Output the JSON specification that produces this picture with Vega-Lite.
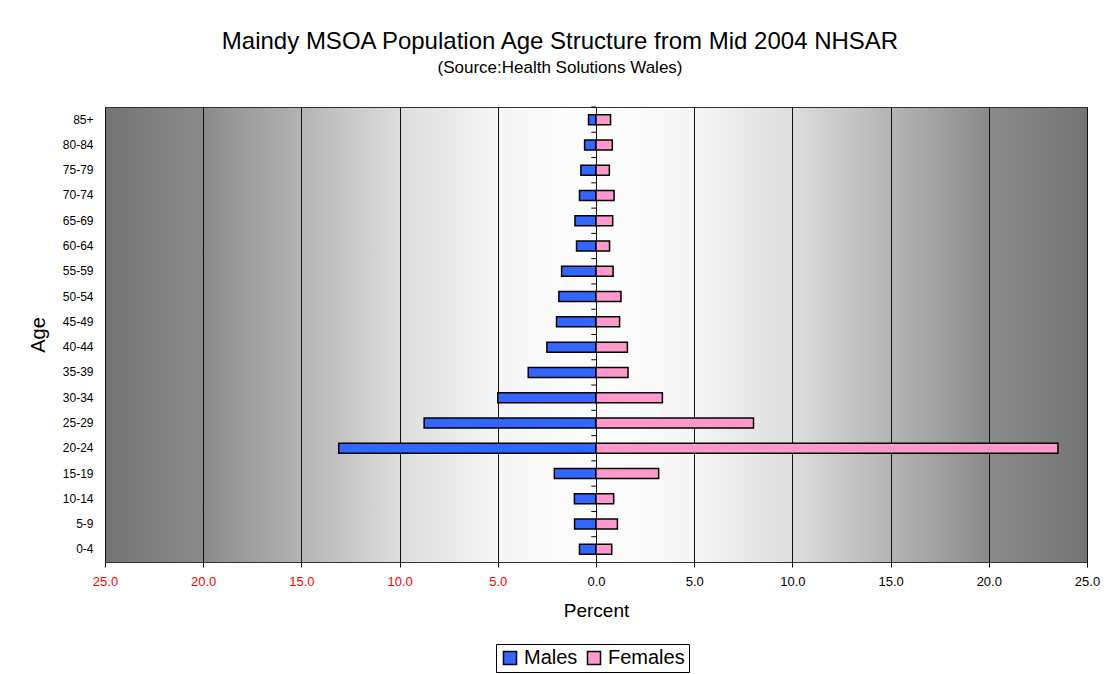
{
  "$schema": "https://vega.github.io/schema/vega-lite/v6.json",
  "width": 982,
  "height": 455,
  "autosize": {"type": "none"},
  "padding": {"left": 105, "top": 107, "right": 23, "bottom": 112},
  "background": "white",
  "view": {
    "stroke": "#333333",
    "strokeWidth": 1,
    "fill": {
      "gradient": "linear", "x1": 0, "x2": 1, "y1": 0, "y2": 0,
      "stops": [
        {"offset": 0, "color": "#747474"},
        {"offset": 0.1, "color": "#8a8a8a"},
        {"offset": 0.2, "color": "#b4b4b4"},
        {"offset": 0.3, "color": "#dddddd"},
        {"offset": 0.4, "color": "#f5f5f5"},
        {"offset": 0.5, "color": "#fdfdfd"},
        {"offset": 0.6, "color": "#f5f5f5"},
        {"offset": 0.7, "color": "#dddddd"},
        {"offset": 0.8, "color": "#b4b4b4"},
        {"offset": 0.9, "color": "#8a8a8a"},
        {"offset": 1, "color": "#747474"}
      ]
    }
  },
  "title": {
    "text": "Maindy MSOA Population Age Structure from Mid 2004 NHSAR",
    "subtitle": "(Source:Health Solutions Wales)",
    "font": "Liberation Sans",
    "subtitleFont": "Liberation Sans",
    "fontSize": 24,
    "subtitleFontSize": 17,
    "fontWeight": "normal",
    "color": "black",
    "subtitleColor": "black",
    "anchor": "middle",
    "dx": -36,
    "offset": 31,
    "subtitlePadding": 6
  },
  "data": {
    "values": [
      {"age": "85+", "sex": "Males", "percent": 0.38},
      {"age": "85+", "sex": "Females", "percent": 0.74},
      {"age": "80-84", "sex": "Males", "percent": 0.58},
      {"age": "80-84", "sex": "Females", "percent": 0.83},
      {"age": "75-79", "sex": "Males", "percent": 0.77},
      {"age": "75-79", "sex": "Females", "percent": 0.68},
      {"age": "70-74", "sex": "Males", "percent": 0.84},
      {"age": "70-74", "sex": "Females", "percent": 0.92},
      {"age": "65-69", "sex": "Males", "percent": 1.07},
      {"age": "65-69", "sex": "Females", "percent": 0.85},
      {"age": "60-64", "sex": "Males", "percent": 0.99},
      {"age": "60-64", "sex": "Females", "percent": 0.69},
      {"age": "55-59", "sex": "Males", "percent": 1.75},
      {"age": "55-59", "sex": "Females", "percent": 0.87},
      {"age": "50-54", "sex": "Males", "percent": 1.89},
      {"age": "50-54", "sex": "Females", "percent": 1.27},
      {"age": "45-49", "sex": "Males", "percent": 2.01},
      {"age": "45-49", "sex": "Females", "percent": 1.2},
      {"age": "40-44", "sex": "Males", "percent": 2.5},
      {"age": "40-44", "sex": "Females", "percent": 1.6},
      {"age": "35-39", "sex": "Males", "percent": 3.45},
      {"age": "35-39", "sex": "Females", "percent": 1.63},
      {"age": "30-34", "sex": "Males", "percent": 5.0},
      {"age": "30-34", "sex": "Females", "percent": 3.38},
      {"age": "25-29", "sex": "Males", "percent": 8.75},
      {"age": "25-29", "sex": "Females", "percent": 8.02},
      {"age": "20-24", "sex": "Males", "percent": 13.1},
      {"age": "20-24", "sex": "Females", "percent": 23.52},
      {"age": "15-19", "sex": "Males", "percent": 2.12},
      {"age": "15-19", "sex": "Females", "percent": 3.19},
      {"age": "10-14", "sex": "Males", "percent": 1.1},
      {"age": "10-14", "sex": "Females", "percent": 0.9},
      {"age": "5-9", "sex": "Males", "percent": 1.09},
      {"age": "5-9", "sex": "Females", "percent": 1.09},
      {"age": "0-4", "sex": "Males", "percent": 0.84},
      {"age": "0-4", "sex": "Females", "percent": 0.8}
    ]
  },
  "transform": [
    {"calculate": "datum.sex === 'Males' ? -datum.percent : datum.percent", "as": "signed"}
  ],
  "encoding": {
    "y": {
      "field": "age",
      "type": "nominal",
      "sort": ["85+", "80-84", "75-79", "70-74", "65-69", "60-64", "55-59", "50-54", "45-49", "40-44", "35-39", "30-34", "25-29", "20-24", "15-19", "10-14", "5-9", "0-4"],
      "scale": {"paddingInner": 0, "paddingOuter": 0},
      "axis": {
        "title": "Age",
        "titleFont": "Liberation Sans",
        "titleFontSize": 20,
        "titleFontWeight": "normal",
        "titleColor": "black",
        "titlePadding": 14,
        "labelFont": "Liberation Sans",
        "labelFontSize": 12,
        "labelColor": "black",
        "labelPadding": 12,
        "ticks": false,
        "domain": false,
        "grid": false
      }
    }
  },
  "layer": [
    {
      "mark": {"type": "bar", "size": 10, "stroke": "black", "strokeWidth": 1.5},
      "encoding": {
        "x": {
          "field": "signed",
          "type": "quantitative",
          "stack": null,
          "scale": {"domain": [-25, 25], "nice": false, "zero": false},
          "axis": {
            "title": "Percent",
            "titleFont": "Liberation Sans",
            "titleFontSize": 19,
            "titleFontWeight": "normal",
            "titleColor": "black",
            "titlePadding": 13,
            "values": [-25, -20, -15, -10, -5, 0, 5, 10, 15, 20, 25],
            "labelExpr": "format(abs(datum.value), '.1f')",
            "labelFont": "Liberation Sans",
            "labelFontSize": 13,
            "labelColor": {"condition": {"test": "datum.value < 0", "value": "#ff0000"}, "value": "black"},
            "labelPadding": 8,
            "labelFlush": false,
            "tickColor": "black",
            "tickSize": 5,
            "domainColor": "#333333",
            "grid": true,
            "gridColor": "#111111",
            "gridOpacity": 1,
            "gridWidth": 1
          }
        },
        "color": {
          "field": "sex",
          "type": "nominal",
          "scale": {"domain": ["Males", "Females"], "range": ["#3366ff", "#ff99cc"]},
          "legend": {
            "title": null,
            "orient": "none",
            "legendX": 391,
            "legendY": 537,
            "direction": "horizontal",
            "symbolType": "square",
            "symbolSize": 170,
            "symbolStrokeColor": "black",
            "symbolStrokeWidth": 1.5,
            "symbolOpacity": 1,
            "labelFont": "Liberation Sans",
            "labelFontSize": 20,
            "labelColor": "black",
            "columnPadding": 6,
            "labelOffset": 4,
            "strokeColor": "black",
            "fillColor": "white",
            "padding": 4
          }
        }
      }
    },
    {
      "transform": [{"filter": "datum.sex === 'Males'"}],
      "mark": {"type": "rule", "color": "black", "strokeWidth": 1},
      "encoding": {
        "y": {"field": "age", "type": "nominal", "bandPosition": 0, "sort": ["85+", "80-84", "75-79", "70-74", "65-69", "60-64", "55-59", "50-54", "45-49", "40-44", "35-39", "30-34", "25-29", "20-24", "15-19", "10-14", "5-9", "0-4"]},
        "x": {"datum": -0.24},
        "x2": {"datum": 0}
      }
    }
  ]
}
